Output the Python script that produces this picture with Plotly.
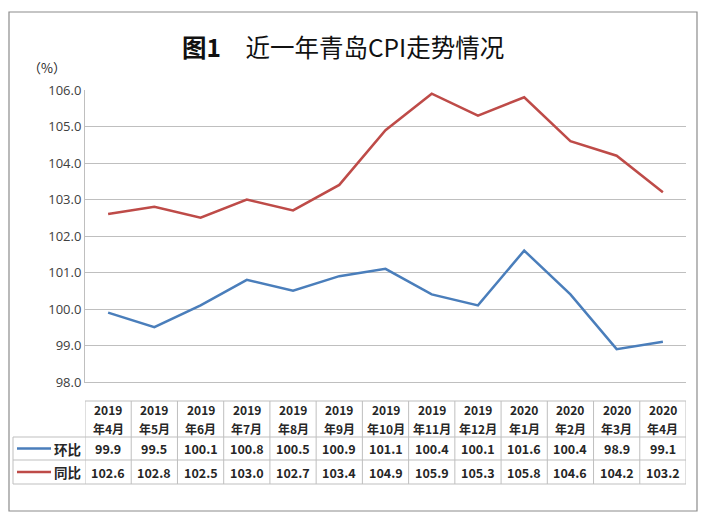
import plotly.graph_objects as go

years = ["2019", "2019", "2019", "2019", "2019", "2019", "2019", "2019", "2019",
         "2020", "2020", "2020", "2020"]
months = ["年4月", "年5月", "年6月", "年7月", "年8月", "年9月", "年10月", "年11月", "年12月",
          "年1月", "年2月", "年3月", "年4月"]
huanbi = [99.9, 99.5, 100.1, 100.8, 100.5, 100.9, 101.1, 100.4, 100.1, 101.6, 100.4, 98.9, 99.1]
tongbi = [102.6, 102.8, 102.5, 103.0, 102.7, 103.4, 104.9, 105.9, 105.3, 105.8, 104.6, 104.2, 103.2]
series_names = ["环比", "同比"]
y_ticks = [98, 99, 100, 101, 102, 103, 104, 105, 106]

BLUE = "#4A7EBB"
RED = "#BE4B48"
GRID = "#BFBFBF"
TXT = "#262626"
FONT = "Noto Sans CJK SC"

OFF = 8  # page body margin
W, H = 707 - 2 * OFF, 523 - 2 * OFF
L, R, T, B = 85 - OFF, 707 - 686 - OFF, 90 - OFF, 523 - 382 - OFF
pw, ph = W - L - R, H - T - B

def px_x(p):
    return (p - OFF - L) / pw

def px_y(p):
    return (H - B - (p - OFF)) / ph

n = len(months)
xs = list(range(n))

fig = go.Figure()
fig.add_trace(go.Scatter(x=xs, y=huanbi, mode="lines", name=series_names[0],
                         line=dict(color=BLUE, width=2.5)))
fig.add_trace(go.Scatter(x=xs, y=tongbi, mode="lines", name=series_names[1],
                         line=dict(color=RED, width=2.5)))

shapes = []
ann = []

# outer border
shapes.append(dict(type="rect", xref="paper", yref="paper",
                   x0=px_x(9), x1=px_x(697), y0=px_y(511), y1=px_y(12),
                   line=dict(color="#8C8C8C", width=1.2), fillcolor="rgba(0,0,0,0)"))

# table geometry
y_head_top, y_head_bot, y_r1_bot, y_r2_bot = px_y(401), px_y(437), px_y(460), px_y(484)
left_lab = px_x(13)
tcol = "#BFBFBF"
shapes.append(dict(type="line", xref="x", yref="paper", x0=-0.5, x1=n - 0.5,
                   y0=y_head_top, y1=y_head_top, line=dict(color=tcol, width=1)))
for yy in (y_head_bot, y_r1_bot, y_r2_bot):
    shapes.append(dict(type="line", xref="paper", yref="paper", x0=left_lab, x1=1,
                       y0=yy, y1=yy, line=dict(color=tcol, width=1)))
for i in range(n + 1):
    shapes.append(dict(type="line", xref="x", yref="paper", x0=i - 0.5, x1=i - 0.5,
                       y0=y_r2_bot, y1=y_head_top, line=dict(color=tcol, width=1)))
shapes.append(dict(type="line", xref="paper", yref="paper", x0=left_lab, x1=left_lab,
                   y0=y_r2_bot, y1=y_head_bot, line=dict(color=tcol, width=1)))

for i in range(n):
    ann.append(dict(x=i, xref="x", y=px_y(409.5), yref="paper",
                    xanchor="center", yanchor="middle", borderpad=0,
                    text="<b>" + years[i] + "</b>", showarrow=False,
                    font=dict(family=FONT, size=12, color=TXT)))
    ann.append(dict(x=i, xref="x", y=px_y(428), yref="paper",
                    xanchor="center", yanchor="middle", borderpad=0,
                    text="<b>" + months[i] + "</b>", showarrow=False,
                    font=dict(family=FONT, size=12, color=TXT)))

rows = [(huanbi, BLUE, (y_head_bot + y_r1_bot) / 2), (tongbi, RED, (y_r1_bot + y_r2_bot) / 2)]
for (vals, col, yc), name in zip(rows, series_names):
    for i, v in enumerate(vals):
        ann.append(dict(x=i, xref="x", y=yc, yref="paper", text="<b>%.1f</b>" % v,
                        xanchor="center", yanchor="middle", borderpad=0,
                        showarrow=False, font=dict(family=FONT, size=12.5, color=TXT)))
    shapes.append(dict(type="line", xref="paper", yref="paper", x0=px_x(17), x1=px_x(51),
                       y0=yc, y1=yc, line=dict(color=col, width=2.5)))
    ann.append(dict(x=px_x(82), xref="paper", y=yc, yref="paper", text="<b>" + name + "</b>",
                    xanchor="right", yanchor="middle", showarrow=False, borderpad=0,
                    font=dict(family=FONT, size=13.5, color=TXT)))

ann.append(dict(x=px_x(343), xref="paper", y=px_y(46), yref="paper",
                xanchor="center", yanchor="middle",
                text="<b>图1</b>　近一年青岛CPI走势情况", showarrow=False,
                font=dict(family=FONT, size=24.5, color="#111111")))
ann.append(dict(x=px_x(47), xref="paper", y=px_y(67), yref="paper",
                xanchor="center", yanchor="middle",
                text="（%）", showarrow=False,
                font=dict(family=FONT, size=13, color=TXT)))

fig.update_layout(
    width=W, height=H,
    margin=dict(l=L, r=R, t=T, b=B),
    paper_bgcolor="white", plot_bgcolor="white",
    showlegend=False,
    shapes=shapes, annotations=ann,
    xaxis=dict(range=[-0.5, n - 0.5], showticklabels=False, showgrid=False,
               zeroline=False, showline=True, linecolor=GRID, linewidth=1, ticks=""),
    yaxis=dict(range=[98, 106], tickvals=y_ticks, tickformat=".1f",
               showgrid=True, gridcolor=GRID, gridwidth=1, zeroline=False,
               showline=True, linecolor=GRID, linewidth=1, ticks="", ticklen=0,
               tickfont=dict(family="Open Sans", size=13, color="#404040")),
)

fig.write_html("out.html")
